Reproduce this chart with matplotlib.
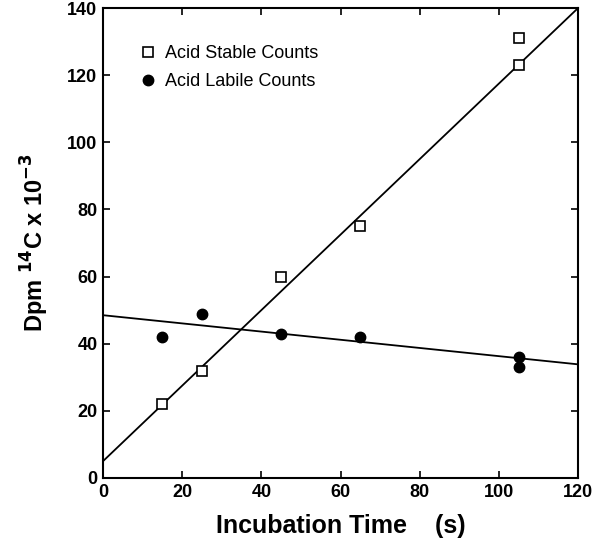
import numpy as np
import matplotlib
matplotlib.use("Agg")
import matplotlib.pyplot as plt

plt.rcParams['font.family'] = ['Liberation Sans', 'DejaVu Sans']

# data
t_stable = [15, 25, 45, 65, 105, 105]
stable = [22, 32, 60, 75, 131, 123]
t_labile = [15, 25, 45, 65, 105, 105]
labile = [42, 49, 43, 42, 36, 33]

# fitted lines (intercept, slope) as drawn in the figure
stable_fit = (5.0, 1.125)
labile_fit = (48.5, -0.122)

fig = plt.figure(figsize=(6.04, 5.39), dpi=100)
ax = fig.add_axes([0.1705, 0.1132, 0.7865, 0.8718])

xl = np.array([0, 120])
ax.plot(xl, stable_fit[0] + stable_fit[1] * xl, color='black', lw=1.3, zorder=2)
ax.plot(xl, labile_fit[0] + labile_fit[1] * xl, color='black', lw=1.3, zorder=2)

ax.plot(t_stable, stable, 's', ms=7, mfc='white', mec='black', mew=1.2,
        ls='none', label='Acid Stable Counts', zorder=3)
ax.plot(t_labile, labile, 'o', ms=7.5, color='black',
        ls='none', label='Acid Labile Counts', zorder=3)

ax.set_xlim(0, 120)
ax.set_ylim(0, 140)
ax.set_xticks(range(0, 121, 20))
ax.set_yticks(range(0, 141, 20))
ax.tick_params(direction='in', top=True, right=True, length=5, width=1.2,
               labelsize=13, pad=4)
for lab in ax.get_xticklabels() + ax.get_yticklabels():
    lab.set_fontweight('bold')
for s in ax.spines.values():
    s.set_linewidth(1.5)

ax.set_xlabel('Incubation Time    (s)', fontsize=18, fontweight='bold', labelpad=10)
ax.set_ylabel('Dpm $\\mathbf{^{14}}$C x 10$\\mathbf{^{-3}}$', fontsize=17,
              fontweight='bold', labelpad=12)

ax.legend(loc='upper left', bbox_to_anchor=(0.045, 0.955), frameon=False,
          fontsize=13, handlelength=0.8, handletextpad=0.55, labelspacing=0.6)

fig.savefig('out.png', dpi=100)
